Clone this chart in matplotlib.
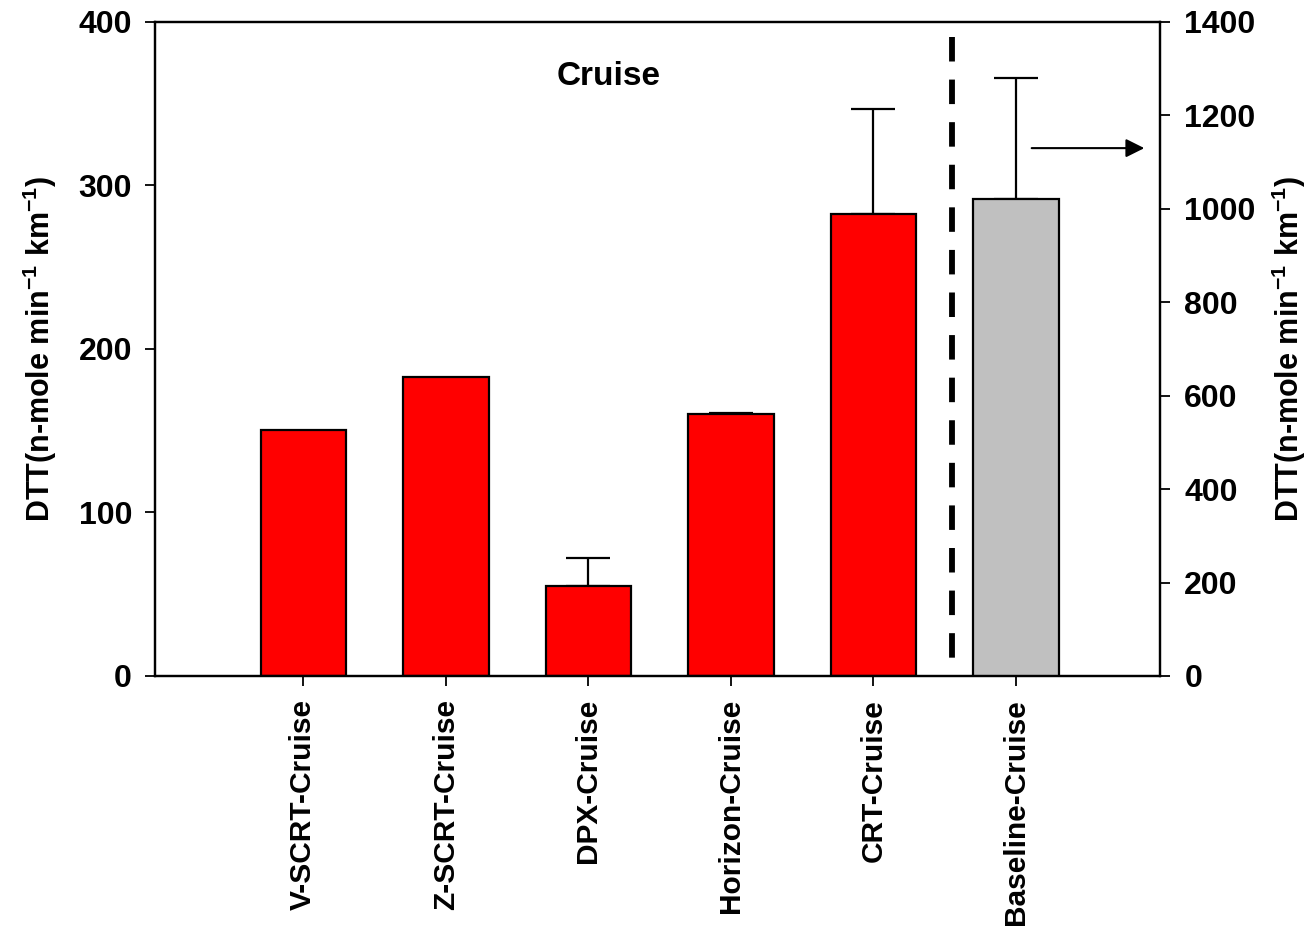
import matplotlib
matplotlib.use("Agg")
import matplotlib.pyplot as plt

plt.rcParams['font.family'] = ['Liberation Sans', 'DejaVu Sans']
plt.rcParams['font.weight'] = 'bold'
plt.rcParams['mathtext.fontset'] = 'custom'
plt.rcParams['mathtext.rm'] = 'Liberation Sans:bold'
plt.rcParams['mathtext.bf'] = 'Liberation Sans:bold'
plt.rcParams['mathtext.default'] = 'bf'

# DTT activity per vehicle configuration (cruise mode)
categories = ['V-SCRT-Cruise', 'Z-SCRT-Cruise', 'DPX-Cruise', 'Horizon-Cruise', 'CRT-Cruise']
dtt_values = [150.4, 182.6, 55.2, 160.0, 282.8]
dtt_errors = [0.0, 0.0, 16.7, 0.6, 63.8]

# Baseline plotted against the right-hand axis
baseline_label = 'Baseline-Cruise'
baseline_value = 1020.6
baseline_error = 259.0

left_ticks = [0, 100, 200, 300, 400]
right_ticks = [0, 200, 400, 600, 800, 1000, 1200, 1400]

fig = plt.figure(figsize=(13.06, 9.36), dpi=100)
ax = fig.add_axes([0.1187, 0.2778, 0.7695, 0.6987])
ax2 = ax.twinx()

pos = list(range(len(categories)))
base_pos = len(categories)
bar_w = 0.6
err_kw = dict(fmt='none', ecolor='black', elinewidth=1.6, capsize=16, capthick=1.6, zorder=1)

ax.bar(pos, dtt_values, width=bar_w, color='#ff0000', edgecolor='black', linewidth=1.6, zorder=2)
err_idx = [i for i, e in enumerate(dtt_errors) if e > 0]
ax.errorbar([pos[i] for i in err_idx], [dtt_values[i] for i in err_idx],
            yerr=[[0] * len(err_idx), [dtt_errors[i] for i in err_idx]], **err_kw)

ax2.bar([base_pos], [baseline_value], width=bar_w, color='#c0c0c0', edgecolor='black',
        linewidth=1.6, zorder=2)
ax2.errorbar([base_pos], [baseline_value], yerr=[[0], [baseline_error]], **err_kw)

# separator between treated vehicles and baseline, dashes starting from the top
ax.plot([4.553, 4.553], [391, 0], color='black', linewidth=4.2, linestyle=(0, (4.2, 3.1)), zorder=3)

ax.set_xlim(-1.04, 6.01)
ax.set_ylim(0, 400)
ax2.set_ylim(0, 1400)

ax.set_xticks(pos + [base_pos])
ax.set_xticklabels(categories + [baseline_label], rotation=90, fontsize=21.5, fontweight='bold',
                   va='top', ha='center')
ax.set_yticks(left_ticks)
ax.set_yticklabels([str(t) for t in left_ticks], fontsize=23, fontweight='bold')
ax2.set_yticks(right_ticks)
ax2.set_yticklabels([str(t) for t in right_ticks], fontsize=23, fontweight='bold')

for a in (ax, ax2):
    a.tick_params(direction='out', length=7.5, width=1.3, color='black')
    for s in a.spines.values():
        s.set_linewidth(1.6)
ax.tick_params(axis='x', pad=9)
ax.tick_params(axis='y', pad=9)
ax2.tick_params(axis='y', pad=10)

ylab = r'DTT(n-mole min$^{-1}$ km$^{-1}$)'
ax.set_ylabel(ylab, fontsize=22, fontweight='bold', labelpad=14)
ax2.set_ylabel(ylab, fontsize=22, fontweight='bold', labelpad=10)

ax.text(0.451, 0.916, 'Cruise', transform=ax.transAxes, fontsize=24, fontweight='bold',
        ha='center', va='center')

# arrow pointing to the right axis for the baseline bar
ax2.annotate('', xy=(5.9, 1130), xytext=(5.11, 1130),
             arrowprops=dict(arrowstyle='-|>', color='black', lw=1.5,
                             mutation_scale=28, shrinkA=0, shrinkB=0))

fig.savefig('out.png', dpi=100)
